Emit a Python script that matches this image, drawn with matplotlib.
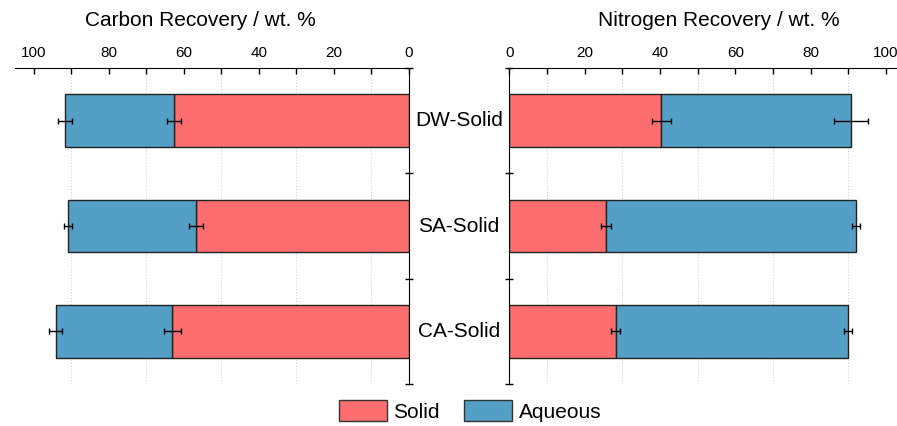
import matplotlib.pyplot as plt
from matplotlib.ticker import MultipleLocator
from matplotlib.patches import Patch

plt.rcParams['font.family'] = ['Liberation Sans', 'DejaVu Sans']

categories = ['DW-Solid', 'SA-Solid', 'CA-Solid']

# carbon recovery (wt. %)
carbon_solid = [62.6, 56.7, 63.1]
carbon_solid_err = [1.9, 1.9, 2.3]
carbon_total = [91.6, 90.9, 94.2]
carbon_total_err = [1.9, 1.0, 1.7]

# nitrogen recovery (wt. %)
nitrogen_solid = [40.3, 25.6, 28.2]
nitrogen_solid_err = [2.5, 1.3, 1.2]
nitrogen_total = [90.8, 92.0, 89.9]
nitrogen_total_err = [4.5, 1.0, 1.1]

red = '#FF6E6E'
blue = '#539FC6'

W, H = 897, 426
fig = plt.figure(figsize=(W / 100, H / 100), dpi=100)
ax_c = fig.add_axes([15 / W, 1 - 384 / H, (409 - 15) / W, (384 - 68) / H])
ax_n = fig.add_axes([509.3 / W, 1 - 384 / H, (W - 509.3) / W, (384 - 68) / H])


def draw_panel(ax, solid, solid_err, total, total_err):
    ypos = list(range(len(categories)))
    aqueous = [t - s for t, s in zip(total, solid)]
    ax.barh(ypos, solid, height=0.5, color=red, edgecolor='#222222', linewidth=1, zorder=2)
    ax.barh(ypos, aqueous, left=solid, height=0.5, color=blue, edgecolor='#222222', linewidth=1, zorder=2)
    ax.errorbar(solid, ypos, xerr=solid_err, fmt='none', ecolor='black', elinewidth=1, capsize=2.5, capthick=1, zorder=3)
    ax.errorbar(total, ypos, xerr=total_err, fmt='none', ecolor='black', elinewidth=1, capsize=2.5, capthick=1, zorder=3)
    ax.set_ylim(2.5, -0.5)
    ax.set_yticks([-0.5, 0.5, 1.5, 2.5])
    ax.set_yticklabels([])
    ax.tick_params(axis='y', direction='inout', length=6, width=1)
    ax.xaxis.set_major_locator(MultipleLocator(20))
    ax.xaxis.set_minor_locator(MultipleLocator(10))
    ax.xaxis.tick_top()
    ax.tick_params(axis='x', which='both', direction='in', length=4, width=1, labelsize=11, pad=6)
    ax.grid(axis='x', which='minor', color='#D5D5D5', linestyle=':', linewidth=0.8, zorder=0)
    ax.spines['bottom'].set_visible(False)
    ax.set_axisbelow(True)


draw_panel(ax_c, carbon_solid, carbon_solid_err, carbon_total, carbon_total_err)
ax_c.set_xlim(105, 0)
ax_c.spines['left'].set_visible(False)
ax_c.yaxis.tick_right()

draw_panel(ax_n, nitrogen_solid, nitrogen_solid_err, nitrogen_total, nitrogen_total_err)
ax_n.set_xlim(0, 102.9)
ax_n.spines['right'].set_visible(False)
ax_n.yaxis.tick_left()

fig.text(200 / W, 1 - 21 / H, 'Carbon Recovery / wt. %', ha='center', va='center', fontsize=15)
fig.text(719 / W, 1 - 21 / H, 'Nitrogen Recovery / wt. %', ha='center', va='center', fontsize=15)

# category labels sit in the gap between the two panels
for i, name in enumerate(categories):
    y = ax_c.transData.transform((0, i))[1] / fig.bbox.height
    fig.text(459 / W, y, name, ha='center', va='center', fontsize=15)

handles = [Patch(facecolor=red, edgecolor='#333333', label='Solid'),
           Patch(facecolor=blue, edgecolor='#333333', label='Aqueous')]
fig.legend(handles=handles, loc='center', bbox_to_anchor=(470 / W, 1 - 411 / H), ncol=2,
           frameon=False, fontsize=15, handlelength=2.3, handleheight=1.15,
           handletextpad=0.3, columnspacing=1.2, borderpad=0)

fig.savefig('out.png', dpi=100)
